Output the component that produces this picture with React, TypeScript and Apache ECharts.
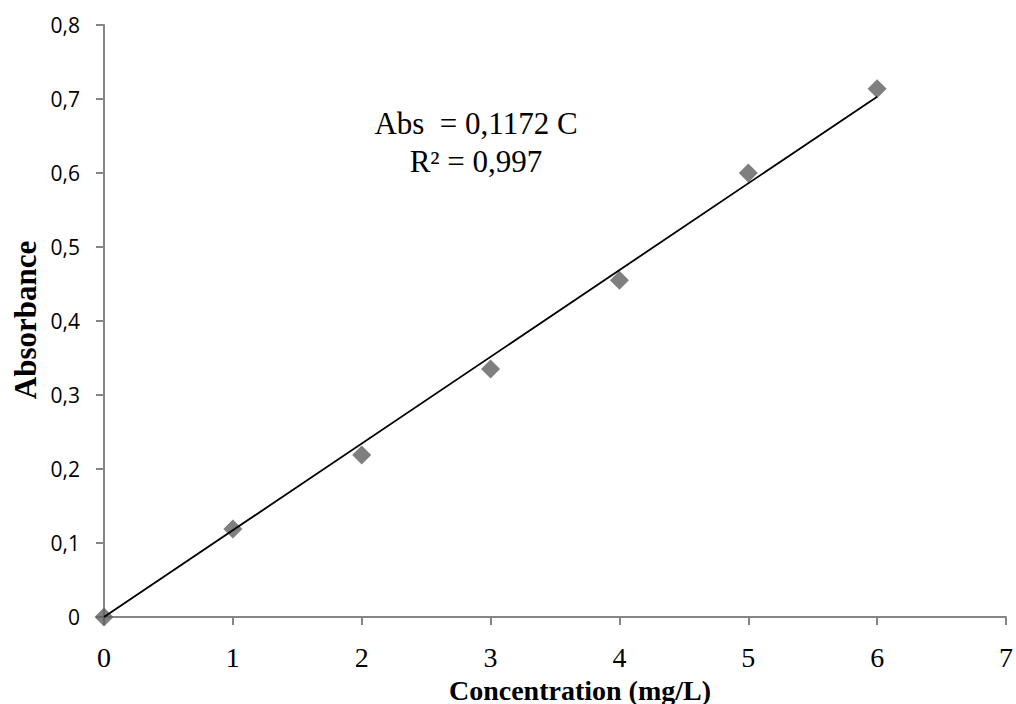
import React, { useEffect, useRef } from "react";
import * as echarts from "echarts";

const concentrations = [0, 1, 2, 3, 4, 5, 6];
const absorbances = [0, 0.119, 0.219, 0.335, 0.455, 0.6, 0.714];
const trendX = [0, 6];
const trendY = [0, 0.7032];
const yTickLabels = ["0", "0,1", "0,2", "0,3", "0,4", "0,5", "0,6", "0,7", "0,8"];
const equationLines = ["Abs  = 0,1172 C", "R² = 0,997"];
const xTitle = "Concentration (mg/L)";
const yTitle = "Absorbance";

export default function App() {
  const ref = useRef<HTMLDivElement>(null);
  useEffect(() => {
    if (!ref.current) return;
    const chart = echarts.init(ref.current, null, { renderer: "svg" });
    const axisGray = "#868686";
    const serif = "Liberation Serif";
    chart.setOption({
      animation: false,
      backgroundColor: "#ffffff",
      grid: { left: 104, right: 8, top: 25, bottom: 87, containLabel: false },
      xAxis: {
        type: "value",
        min: 0,
        max: 7,
        interval: 1,
        axisLine: { show: true, lineStyle: { color: axisGray, width: 2 } },
        axisTick: { show: true, length: 8, inside: false, lineStyle: { color: axisGray, width: 2 } },
        splitLine: { show: false },
        axisLabel: {
          fontFamily: serif,
          fontSize: 28,
          lineHeight: 22,
          color: "#000",
          margin: 29,
        },
      },
      yAxis: {
        type: "value",
        min: 0,
        max: 0.8,
        interval: 0.1,
        axisLine: { show: true, lineStyle: { color: axisGray, width: 2 } },
        axisTick: { show: true, length: 8, inside: false, lineStyle: { color: axisGray, width: 2 } },
        splitLine: { show: false },
        axisLabel: {
          fontFamily: "Open Sans",
          fontSize: 21,
          color: "#000",
          margin: 24,
          formatter: (v: number) => yTickLabels[Math.round(v * 10)] ?? "",
        },
      },
      graphic: [
        {
          type: "text",
          x: 476,
          y: 123,
          style: {
            text: equationLines[0],
            fontFamily: serif,
            fontSize: 31,
            fill: "#000",
            align: "center",
            verticalAlign: "middle",
          },
        },
        {
          type: "text",
          x: 476,
          y: 161,
          style: {
            text: equationLines[1],
            fontFamily: serif,
            fontSize: 31,
            fill: "#000",
            align: "center",
            verticalAlign: "middle",
          },
        },
        {
          type: "text",
          x: 580,
          y: 690,
          style: {
            text: xTitle,
            fontFamily: serif,
            fontWeight: "bold",
            fontSize: 28,
            lineHeight: 22,
            fill: "#000",
            align: "center",
            verticalAlign: "middle",
          },
        },
        {
          type: "text",
          x: 25,
          y: 320,
          rotation: Math.PI / 2,
          style: {
            text: yTitle,
            fontFamily: serif,
            fontWeight: "bold",
            fontSize: 31,
            fill: "#000",
            align: "center",
            verticalAlign: "middle",
          },
        },
      ],
      series: [
        {
          type: "line",
          data: trendX.map((x, i) => [x, trendY[i]]),
          symbol: "none",
          lineStyle: { color: "#000", width: 1.8 },
          z: 3,
        },
        {
          type: "scatter",
          data: concentrations.map((x, i) => [x, absorbances[i]]),
          symbol: "diamond",
          symbolSize: 19,
          itemStyle: { color: "#5f5f5f" },
          z: 2,
        },
      ],
    });
    return () => chart.dispose();
  }, []);
  return (
    <div
      ref={ref}
      style={{ position: "fixed", left: 0, top: 0, width: 1016, height: 704 }}
    />
  );
}
